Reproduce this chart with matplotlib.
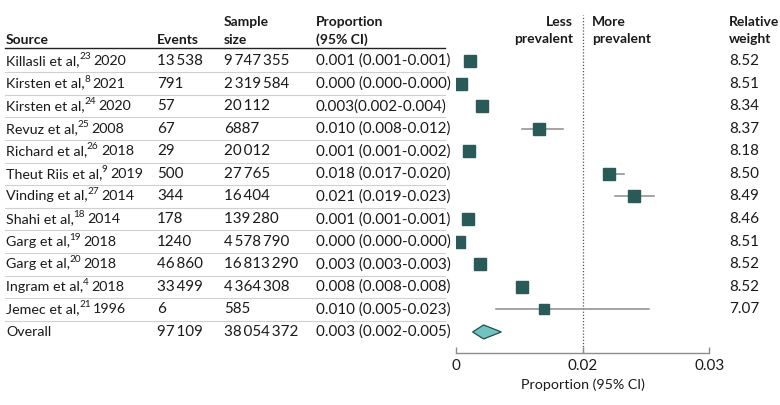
import matplotlib
matplotlib.use("Agg")
import matplotlib.pyplot as plt
from matplotlib.transforms import blended_transform_factory, offset_copy
from matplotlib.lines import Line2D
from matplotlib.patches import Polygon

# ---------------- data ----------------
sources = ["Killasli et al,", "Kirsten et al,", "Kirsten et al,", "Revuz et al,", "Richard et al,",
           "Theut Riis et al,", "Vinding et al,", "Shahi et al,", "Garg et al,", "Garg et al,",
           "Ingram et al,", "Jemec et al,"]
refs = ["23", "8", "24", "25", "26", "9", "27", "18", "19", "20", "4", "21"]
years = ["2020", "2021", "2020", "2008", "2018", "2019", "2014", "2014", "2018", "2018", "2018", "1996"]
events = [13538, 791, 57, 67, 29, 500, 344, 178, 1240, 46860, 33499, 6]
samples = [9747355, 2319584, 20112, 6887, 20012, 27765, 16404, 139280, 4578790, 16813290, 4364308, 585]
prop_text = ["0.001 (0.001-0.001)", "0.000 (0.000-0.000)", "0.003(0.002-0.004)", "0.010 (0.008-0.012)",
             "0.001 (0.001-0.002)", "0.018 (0.017-0.020)", "0.021 (0.019-0.023)", "0.001 (0.001-0.001)",
             "0.000 (0.000-0.000)", "0.003 (0.003-0.003)", "0.008 (0.008-0.008)", "0.010 (0.005-0.023)"]
weights = ["8.52", "8.51", "8.34", "8.37", "8.18", "8.50", "8.49", "8.46", "8.51", "8.52", "8.52", "7.07"]
# plotted estimates
est = [0.0017, 0.0006, 0.0031, 0.0099, 0.0016, 0.0181, 0.0211, 0.0014, 0.0004, 0.0029, 0.0078, 0.0104]
lo = [0.0017, 0.0006, 0.0031, 0.0079, 0.0016, 0.0181, 0.0189, 0.0014, 0.0004, 0.0029, 0.0078, 0.0048]
hi = [0.0017, 0.0006, 0.0031, 0.0127, 0.0016, 0.0199, 0.0234, 0.0014, 0.0004, 0.0029, 0.0078, 0.0229]
overall_events = 97109
overall_sample = 38054372
overall_text = "0.003 (0.002-0.005)"
overall_est, overall_lo, overall_hi = 0.0033, 0.0020, 0.0054
tick_pos = [0, 0.015, 0.03]
tick_labels = ["0", "0.02", "0.03"]

# ---------------- style ----------------
FONT = ["Lato", "DejaVu Sans"]
plt.rcParams["font.family"] = FONT
FS = 10.9      # numbers
FS_SRC = 10.3  # study names
FS_HD = 10.0   # headers
HW = "bold"
TXT = "#1a1a1a"
SQ = "#2a5a58"
CI = "#8c8c8c"

W, H = 780, 405
fig = plt.figure(figsize=(W / 100, H / 100), dpi=100)
renderer = fig.canvas.get_renderer()

ax_left, ax_right = 455.7, 709.3
ax_top, ax_bot = 48.0, 353.3
row0, dy = 61.0, 22.58
ax = fig.add_axes([ax_left / W, 1 - ax_bot / H, (ax_right - ax_left) / W, (ax_bot - ax_top) / H])
ax.set_xlim(0, 0.03)
ax.set_ylim((ax_bot - row0) / dy, (ax_top - row0) / dy)
ax.patch.set_visible(False)
for s in ["top", "right", "left"]:
    ax.spines[s].set_visible(False)
ax.spines["bottom"].set_color("#8c8c8c")
ax.spines["bottom"].set_linewidth(1.0)
ax.set_yticks([])
ax.set_xticks(tick_pos)
ax.set_xticklabels(tick_labels)
ax.tick_params(axis="x", direction="in", length=4, width=1, color="#8c8c8c",
               labelsize=FS, labelcolor=TXT, pad=4)
ax.set_xlabel("Proportion (95% CI)", fontsize=FS_SRC, color=TXT, labelpad=4)

def py(p):
    return (p - row0) / dy

# dotted reference line
ymax = (ax_bot - 15) / (ax_bot - ax_top)
ax.axvline(0.015, ymin=0, ymax=ymax, color="#555555", lw=0.9, ls=(0, (1, 1.5)), clip_on=False, zorder=1)

n = len(sources)
for i in range(n):
    if hi[i] > lo[i]:
        ax.plot([lo[i], hi[i]], [i, i], color=CI, lw=1.1, zorder=2)
    ms = 1.0 * float(weights[i]) + 0.3
    ax.plot(est[i], i, marker="s", ms=ms, color=SQ, mec=SQ, zorder=3)

yo = n
dh = 0.31
ax.add_patch(Polygon([[overall_lo, yo], [overall_est, yo - dh], [overall_hi, yo], [overall_est, yo + dh]],
                     closed=True, facecolor="#72c2bf", edgecolor="#1f4f4f", lw=0.9, zorder=3))

# ---------------- table ----------------
tr = blended_transform_factory(fig.transFigure, ax.transData)
tr_sup = offset_copy(tr, fig=fig, x=0, y=4.5, units="dots")
xs = {"src": 6 / W, "ev": 157 / W, "ss": 224 / W, "pr": 316 / W, "rw": 729 / W}

def fmt(v):
    s = f"{v:,}"
    if v >= 10000:
        s = s.replace(",", "\u2009")
    else:
        s = s.replace(",", "")
    return s

def t(x, y, s, fs=FS, transform=tr, **kw):
    return fig.text(x, y, s, transform=transform, fontsize=fs, color=TXT, va="center", **kw)

def h(x, y, s, **kw):
    return t(x, y, s, fs=FS_HD, fontweight=HW, **kw)

# headers
h(xs["src"], py(40), "Source")
h(xs["ev"], py(40), "Events")
h(xs["ss"], py(22), "Sample")
h(xs["ss"], py(40), "size")
h(xs["pr"], py(22), "Proportion")
h(xs["pr"], py(40), "(95% CI)")
h(573 / W, py(22), "Less", ha="right")
h(573 / W, py(39), "prevalent", ha="right")
h(592 / W, py(22), "More")
h(592 / W, py(39), "prevalent")
h(xs["rw"], py(22), "Relative")
h(xs["rw"], py(39), "weight")

for i in range(n):
    a = t(xs["src"], i, sources[i], fs=FS_SRC)
    x1 = a.get_window_extent(renderer).x1
    b = t((x1 - 0.5) / W, i, refs[i], fs=FS * 0.66, transform=tr_sup)
    x2 = b.get_window_extent(renderer).x1
    t((x2 + 2.5) / W, i, years[i], fs=FS_SRC)
    t(xs["ev"], i, fmt(events[i]))
    t(xs["ss"], i, fmt(samples[i]))
    t(xs["pr"], i, prop_text[i])
    t(xs["rw"], i, weights[i])
t(xs["src"], yo, "Overall", fs=FS_SRC)
t(xs["ev"], yo, fmt(overall_events))
t(xs["ss"], yo, fmt(overall_sample))
t(xs["pr"], yo, overall_text)

# rules
fig.add_artist(Line2D([5 / W, 445 / W], [py(ax_top), py(ax_top)], transform=tr, color="#222222", lw=1.0))
for i in range(n):
    fig.add_artist(Line2D([5 / W, 445 / W], [i + 0.5, i + 0.5], transform=tr, color="#d0d0d0", lw=0.8))

fig.savefig("out.png", dpi=100, facecolor="white")
